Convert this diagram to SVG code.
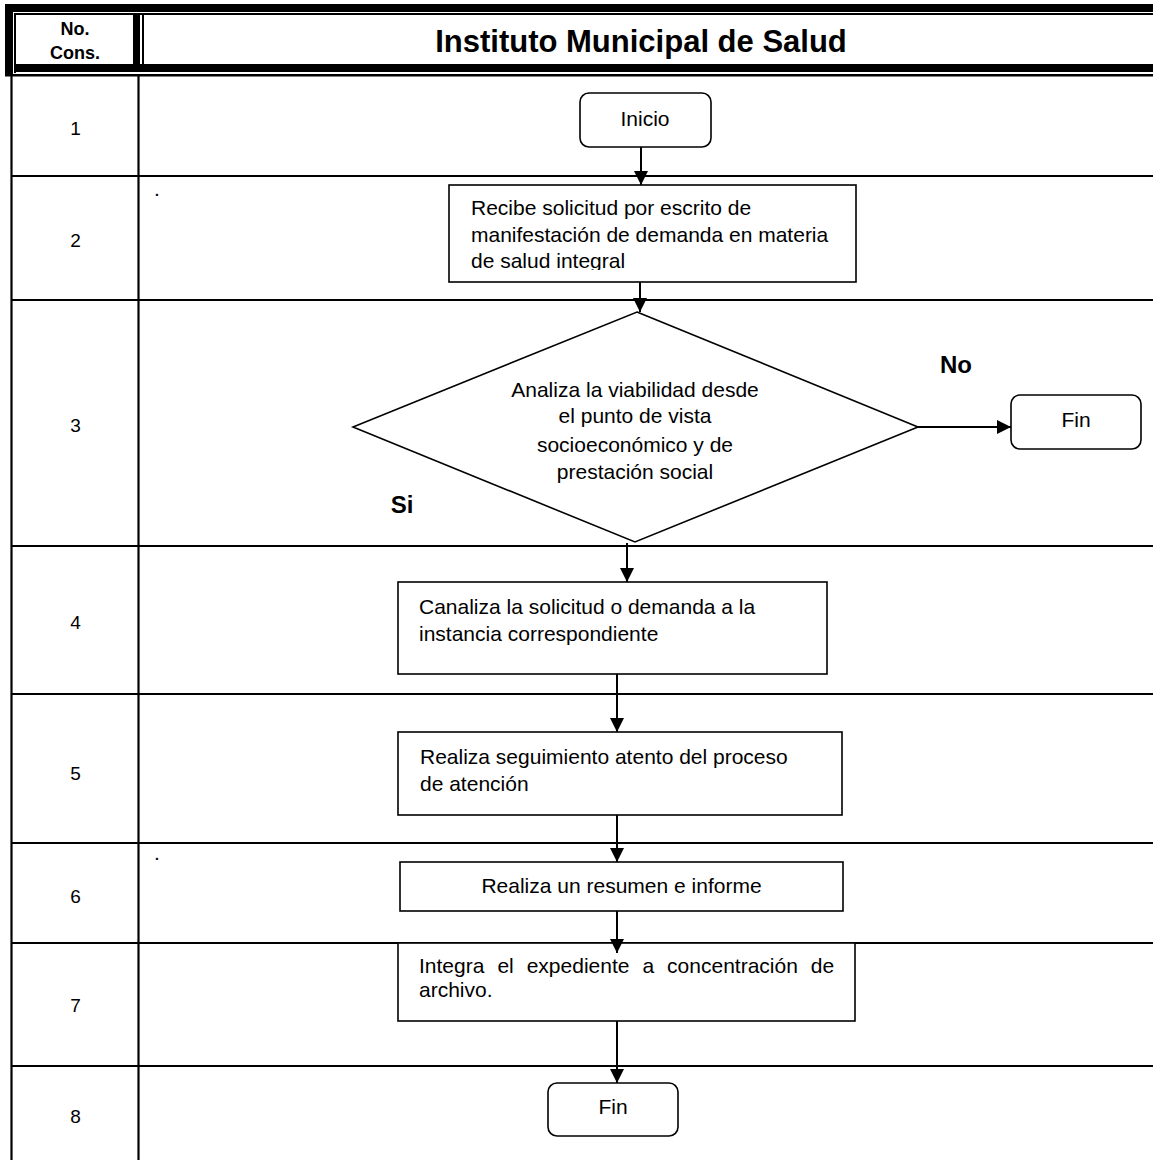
<svg xmlns="http://www.w3.org/2000/svg" width="1153" height="1160" viewBox="0 0 1153 1160">
<style>
  text { font-family: "Liberation Sans", Arial, sans-serif; fill: #000; }
  .t { font-size: 21px; }
  .n { font-size: 19px; text-anchor: middle; }
  .b { font-weight: bold; }
  .box { fill: #fff; stroke: #000; stroke-width: 1.6; }
  .grid { stroke: #000; stroke-width: 2.2; fill: none; }
  .conn { stroke: #000; stroke-width: 2; fill: none; marker-end: url(#arr); }
</style>
<defs>
  <marker id="arr" viewBox="0 0 14 14" refX="14" refY="7" markerWidth="14" markerHeight="14" markerUnits="userSpaceOnUse" orient="auto">
    <path d="M0,0 L14,7 L0,14 z" fill="#000"/>
  </marker>
  <clipPath id="clip2"><rect x="449" y="185" width="406" height="85"/></clipPath>
</defs>
<rect width="1153" height="1160" fill="#fff"/>

<g id="header">
  <rect x="5" y="4" width="1148" height="8" fill="#000"/>
  <rect x="5" y="4" width="8" height="72" fill="#000"/>
  <rect x="14" y="13" width="1139" height="2" fill="#000"/>
  <rect x="14" y="13" width="2" height="60" fill="#000"/>
  <rect x="14" y="64" width="1139" height="8" fill="#000"/>
  <rect x="5" y="74" width="1148" height="2.5" fill="#000"/>
  <rect x="133" y="13" width="7" height="55" fill="#000"/>
  <rect x="142" y="13" width="2" height="55" fill="#000"/>
  <text class="b" x="75" y="35" font-size="18" text-anchor="middle">No.</text>
  <text class="b" x="75" y="59" font-size="18" text-anchor="middle">Cons.</text>
  <text class="b" x="641" y="52" font-size="31" text-anchor="middle">Instituto Municipal de Salud</text>
</g>

<g id="grid">
  <line class="grid" x1="11.5" y1="76" x2="11.5" y2="1160"/>
  <line class="grid" x1="138.5" y1="76" x2="138.5" y2="1160"/>
  <line class="grid" x1="11" y1="176" x2="1153" y2="176"/>
  <line class="grid" x1="11" y1="300" x2="1153" y2="300"/>
  <line class="grid" x1="11" y1="546" x2="1153" y2="546"/>
  <line class="grid" x1="11" y1="694" x2="1153" y2="694"/>
  <line class="grid" x1="11" y1="843" x2="1153" y2="843"/>
  <line class="grid" x1="11" y1="943" x2="1153" y2="943"/>
  <line class="grid" x1="11" y1="1066" x2="1153" y2="1066"/>
  <text class="n" x="75.5" y="135">1</text>
  <text class="n" x="75.5" y="247">2</text>
  <text class="n" x="75.5" y="432">3</text>
  <text class="n" x="75.5" y="629">4</text>
  <text class="n" x="75.5" y="780">5</text>
  <text class="n" x="75.5" y="903">6</text>
  <text class="n" x="75.5" y="1012">7</text>
  <text class="n" x="75.5" y="1123">8</text>
  <text class="t" x="154" y="196">.</text>
  <text class="t" x="154" y="860">.</text>
</g>

<g id="inicio">
  <rect class="box" x="580" y="93" width="131" height="54" rx="9"/>
  <text class="t" x="645" y="126" text-anchor="middle">Inicio</text>
</g>

<g id="paso2">
  <rect class="box" x="449" y="185" width="407" height="97"/>
  <g clip-path="url(#clip2)">
    <text class="t" x="471" y="215">Recibe solicitud por escrito de</text>
    <text class="t" x="471" y="242">manifestación de demanda en materia</text>
    <text class="t" x="471" y="268">de salud integral</text>
  </g>
</g>

<g id="decision">
  <polygon class="box" points="637,312 918,427 635,542 353,427"/>
  <text class="t" x="635" y="397" text-anchor="middle">Analiza la viabilidad desde</text>
  <text class="t" x="635" y="423" text-anchor="middle">el punto de vista</text>
  <text class="t" x="635" y="452" text-anchor="middle">socioeconómico y de</text>
  <text class="t" x="635" y="479" text-anchor="middle">prestación social</text>
</g>

<g id="label-no">
  <text class="b" x="956" y="373" font-size="24" text-anchor="middle">No</text>
</g>
<g id="label-si">
  <text class="b" x="402" y="513" font-size="24" text-anchor="middle">Si</text>
</g>

<g id="fin1">
  <rect class="box" x="1011" y="395" width="130" height="54" rx="9"/>
  <text class="t" x="1076" y="427" text-anchor="middle">Fin</text>
</g>

<g id="paso4">
  <rect class="box" x="398" y="582" width="429" height="92"/>
  <text class="t" x="419" y="614">Canaliza la solicitud o demanda a la</text>
  <text class="t" x="419" y="641">instancia correspondiente</text>
</g>

<g id="paso5">
  <rect class="box" x="398" y="732" width="444" height="83"/>
  <text class="t" x="420" y="764">Realiza seguimiento atento del proceso</text>
  <text class="t" x="420" y="791">de atención</text>
</g>

<g id="paso6">
  <rect class="box" x="400" y="862" width="443" height="49"/>
  <text class="t" x="621.5" y="893" text-anchor="middle">Realiza un resumen e informe</text>
</g>

<g id="paso7">
  <rect class="box" x="398" y="943" width="457" height="78"/>
  <text class="t" y="973"><tspan x="419">Integra</tspan><tspan x="497.4">el</tspan><tspan x="526.7">expediente</tspan><tspan x="642.4">a</tspan><tspan x="667.1">concentración</tspan><tspan x="810.8">de</tspan></text>
  <text class="t" x="419" y="997">archivo.</text>
</g>

<g id="fin2">
  <rect class="box" x="548" y="1083" width="130" height="53" rx="9"/>
  <text class="t" x="613" y="1114" text-anchor="middle">Fin</text>
</g>

<g id="connectors">
  <line class="conn" x1="641" y1="147" x2="641" y2="185"/>
  <line class="conn" x1="640" y1="282" x2="640" y2="312"/>
  <line class="conn" x1="918" y1="427" x2="1011" y2="427"/>
  <line class="conn" x1="627" y1="543" x2="627" y2="582"/>
  <line class="conn" x1="617" y1="674" x2="617" y2="732"/>
  <line class="conn" x1="617" y1="815" x2="617" y2="862"/>
  <line class="conn" x1="617" y1="911" x2="617" y2="953"/>
  <line class="conn" x1="617" y1="1021" x2="617" y2="1083"/>
</g>
</svg>
